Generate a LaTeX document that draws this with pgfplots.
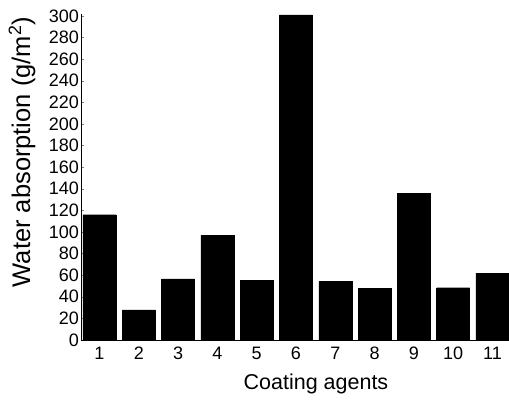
\documentclass[border=0pt]{standalone}
\usepackage{fontspec}
\setmainfont{Liberation Sans}
\usepackage{pgfplots}
\pgfplotsset{compat=1.18}
\begin{document}
\begin{tikzpicture}
\begin{axis}[
  at={(0,0)}, anchor=south west,
  scale only axis,
  width=428pt, height=326.2pt,
  xmin=0.53, xmax=11.42,
  ymin=0, ymax=302,
  axis x line*=bottom, axis y line*=left,
  ytick={0,20,...,300},
  xtick={1,...,11},
  x tick style={draw=none},
  tick align=inside,
  major tick length=3pt,
  /pgf/number format/assume math mode=true,
  tick label style={font=\fontsize{18}{20}\selectfont},
  xlabel={Coating agents},
  ylabel={Water absorption (g/m\textsuperscript{2})},
  xlabel style={font=\fontsize{21.5}{24}\selectfont, at={(axis description cs:0.549,0)}, anchor=north, yshift=-30pt},
  ylabel style={font=\fontsize{25.5}{28}\selectfont, at={(axis description cs:-0.138,0.576)}, anchor=center},
  yticklabel style={xshift=1.5pt},
  xticklabel style={text height=13pt, text depth=0pt, inner sep=0pt, yshift=-6pt},
  clip=false,
]
\addplot[ybar, bar width=0.84, fill=black, draw=black] coordinates {
 (1,116) (2,28) (3,56.5) (4,97) (5,55.5) (6,301) (7,54) (8,47.5) (9,136) (10,48.4) (11,62)
};
\end{axis}
\pgfresetboundingbox
\path[use as bounding box] (-81pt,-60pt) rectangle (428pt,340pt);
\end{tikzpicture}
\end{document}
